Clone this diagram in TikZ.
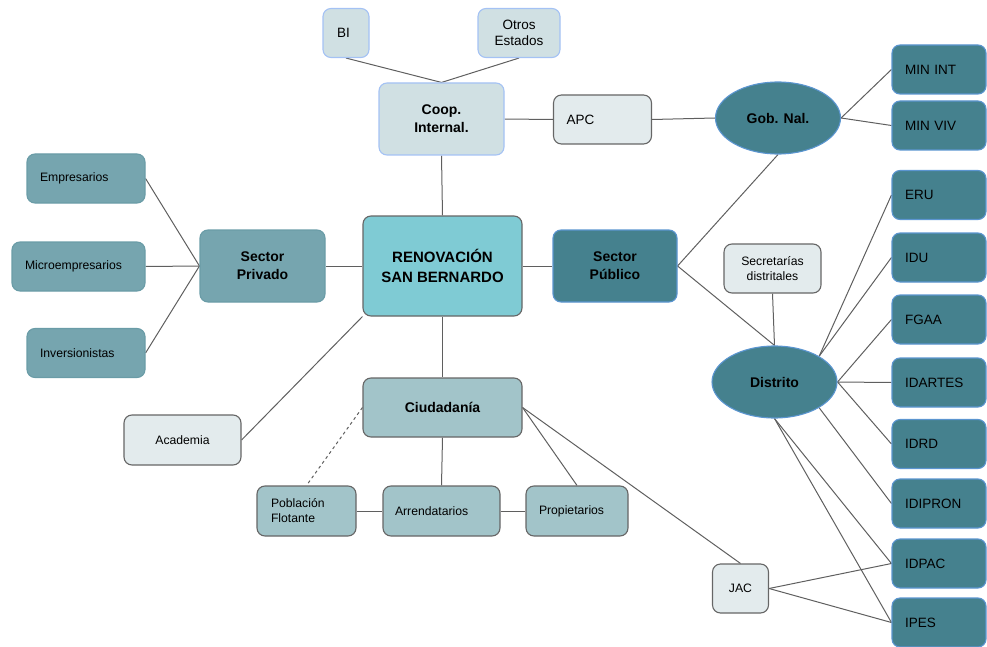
\documentclass[tikz,border=0pt]{standalone}
\usepackage{fontspec}
\setmainfont{Liberation Sans}
\usetikzlibrary{shapes.geometric,backgrounds}
\definecolor{coopfill}{HTML}{D0E0E3}
\definecolor{coopline}{HTML}{A4C2F4}
\definecolor{palefill}{HTML}{E3EBED}
\definecolor{greyline}{HTML}{666666}
\definecolor{renofill}{HTML}{7FCBD4}
\definecolor{darkfill}{HTML}{45818E}
\definecolor{darkline}{HTML}{5B95D0}
\definecolor{privfill}{HTML}{76A5AF}
\definecolor{privline}{HTML}{6A9CA7}
\definecolor{citfill}{HTML}{A2C4C9}
\definecolor{linkcol}{HTML}{5F5F5F}
\tikzset{
  box/.style={rectangle, rounded corners=8pt, line width=1.1pt, inner ysep=0pt, minimum height=49pt, align=center},
  lbox/.style={align=left, text width=#1, inner xsep=13pt},
  coopbox/.style={box, fill=coopfill, draw=coopline},
  palebox/.style={box, fill=palefill, draw=greyline},
  renobox/.style={box, fill=renofill, draw=greyline},
  darkbox/.style={box, fill=darkfill, draw=darkline},
  privbox/.style={box, fill=privfill, draw=privline},
  citbox/.style={box, fill=citfill, draw=greyline},
  oval/.style={ellipse, fill=darkfill, draw=darkline, line width=1.1pt, inner sep=0pt, minimum width=125pt, minimum height=72pt},
  big/.style={font=\fontsize{14}{18}\selectfont\bfseries},
  mid/.style={font=\fontsize{13.5}{16}\selectfont},
  small/.style={font=\fontsize{12.2}{15}\selectfont},
  link/.style={draw=linkcol, line width=1pt}
}
\begin{document}
\begin{tikzpicture}[x=1pt, y=-1pt]
\useasboundingbox (0,0) rectangle (987,647);
\node[coopbox, mid, lbox=18pt, inner xsep=14pt] (bi) at (346,33) {BI};
\node[coopbox, mid, minimum width=82pt] (otros) at (519,33) {Otros\\Estados};
\node[coopbox, big, minimum width=125pt, minimum height=72pt] (coop) at (441.5,119) {Coop.\\Internal.};
\node[palebox, mid, lbox=72pt] (apc) at (602.5,119.5) {APC};
\node[oval, big] (gob) at (778,118) {Gob. Nal.};
\node[darkbox, mid, lbox=68pt] (minint) at (939,69.5) {MIN INT};
\node[darkbox, mid, lbox=68pt] (minviv) at (939,125.5) {MIN VIV};
\node[darkbox, mid, lbox=68pt] (eru) at (939,195) {ERU};
\node[darkbox, mid, lbox=68pt] (idu) at (939,257.5) {IDU};
\node[darkbox, mid, lbox=68pt] (fgaa) at (939,319.5) {FGAA};
\node[darkbox, mid, lbox=68pt] (idartes) at (939,382.5) {IDARTES};
\node[darkbox, mid, lbox=68pt] (idrd) at (939,444) {IDRD};
\node[darkbox, mid, lbox=68pt] (idipron) at (939,503.5) {IDIPRON};
\node[darkbox, mid, lbox=68pt] (idpac) at (939,563.5) {IDPAC};
\node[darkbox, mid, lbox=68pt] (ipes) at (939,622.5) {IPES};
\node[darkbox, big, minimum width=124pt, minimum height=72pt] (pub) at (615,266) {Sector\\Público};
\node[palebox, small, minimum width=97pt] (secr) at (772.5,268.5) {Secretarías\\distritales};
\node[oval, big] (dist) at (774.5,382) {Distrito};
\node[renobox, font=\fontsize{15}{20}\selectfont\bfseries, minimum width=159pt, minimum height=100pt] (reno) at (442.5,266) {RENOVACIÓN\\SAN BERNARDO};
\node[privbox, big, minimum width=125pt, minimum height=72pt] (priv) at (262.5,266) {Sector\\Privado};
\node[privbox, small, lbox=92pt] (emp) at (86,178.5) {Empresarios};
\node[privbox, small, lbox=107pt] (micro) at (78.5,266.5) {Microempresarios};
\node[privbox, small, lbox=92pt] (inv) at (86,353) {Inversionistas};
\node[palebox, small, minimum width=117pt, minimum height=50pt] (aca) at (182.5,440) {Academia};
\node[citbox, big, minimum width=159pt, minimum height=59pt] (cit) at (442.5,407.5) {Ciudadanía};
\node[citbox, small, lbox=71pt, inner xsep=14pt, minimum height=50pt] (pob) at (306.5,511) {Población\\Flotante};
\node[citbox, small, lbox=93pt, inner xsep=12pt, minimum height=50pt] (arr) at (441.5,511) {Arrendatarios};
\node[citbox, small, lbox=76pt, minimum height=50pt] (prop) at (577,511) {Propietarios};
\node[palebox, small, minimum width=56pt] (jac) at (740.5,588.5) {JAC};
\begin{scope}[on background layer]
\draw[link] (bi.south) -- (coop.north) -- (otros.south);
\draw[link] (coop.east) -- (apc.west);
\draw[link] (apc.east) -- (gob.west);
\draw[link] (coop.south) -- (reno.north);
\draw[link] (gob.east) -- (minint.west);
\draw[link] (gob.east) -- (minviv.west);
\draw[link] (gob.south) -- (pub.east);
\draw[link] (pub.east) -- (dist.north);
\draw[link] (secr.south) -- (dist.north);
\draw[link] (dist.30) -- (eru.west);
\draw[link] (dist.30) -- (idu.west);
\draw[link] (dist.east) -- (fgaa.west);
\draw[link] (dist.east) -- (idartes.west);
\draw[link] (dist.east) -- (idrd.west);
\draw[link] (dist.-30) -- (idipron.west);
\draw[link] (dist.south) -- (idpac.west);
\draw[link] (dist.south) -- (ipes.west);
\draw[link] (jac.east) -- (idpac.west);
\draw[link] (jac.east) -- (ipes.west);
\draw[link] (reno.west) -- (priv.east);
\draw[link] (reno.east) -- (pub.west);
\draw[link] (reno.south) -- (cit.north);
\draw[link] (reno.south west) -- (aca.east);
\draw[link] (priv.west) -- (emp.east);
\draw[link] (priv.west) -- (micro.east);
\draw[link] (priv.west) -- (inv.east);
\draw[link] (cit.east) -- (prop.north);
\draw[link] (cit.east) -- (jac.north);
\draw[link] (cit.south) -- (arr.north);
\draw[link] (pob.east) -- (arr.west);
\draw[link] (arr.east) -- (prop.west);
\draw[link, dashed] (cit.west) -- (pob.north);
\end{scope}
\end{tikzpicture}
\end{document}
